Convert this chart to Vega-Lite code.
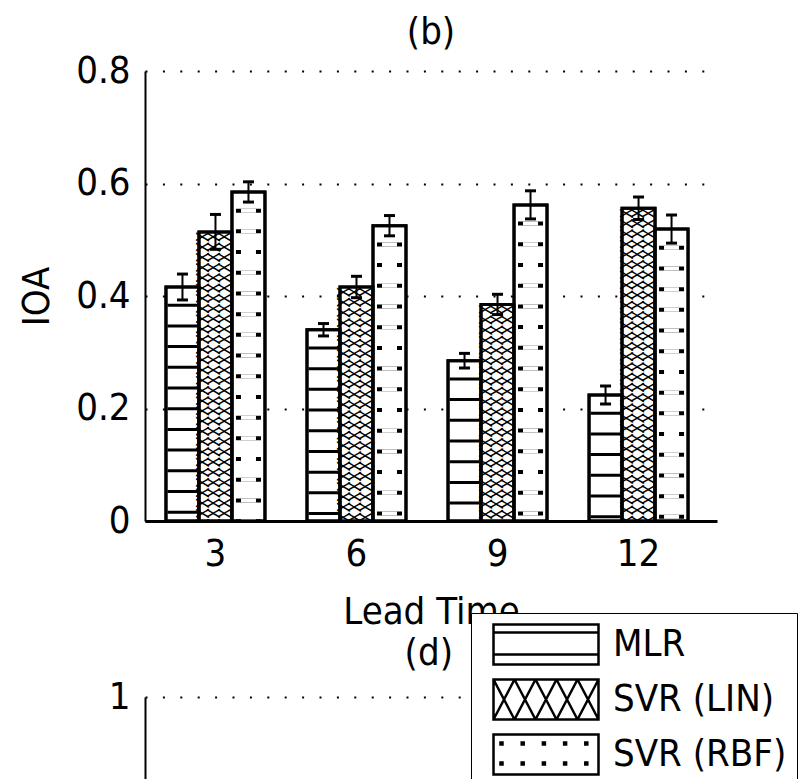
{
  "$schema": "https://vega.github.io/schema/vega-lite/v6.json",
  "padding": {"left": 18, "top": 14, "right": 0, "bottom": 0},
  "background": "white",
  "datasets": {
    "ioa": [
      {"lead": 3, "model": "MLR", "ioa": 0.416, "lo": 0.393, "hi": 0.439},
      {"lead": 3, "model": "SVR (LIN)", "ioa": 0.514, "lo": 0.483, "hi": 0.545},
      {"lead": 3, "model": "SVR (RBF)", "ioa": 0.585, "lo": 0.567, "hi": 0.603},
      {"lead": 6, "model": "MLR", "ioa": 0.340, "lo": 0.329, "hi": 0.351},
      {"lead": 6, "model": "SVR (LIN)", "ioa": 0.416, "lo": 0.397, "hi": 0.435},
      {"lead": 6, "model": "SVR (RBF)", "ioa": 0.525, "lo": 0.507, "hi": 0.543},
      {"lead": 9, "model": "MLR", "ioa": 0.285, "lo": 0.272, "hi": 0.298},
      {"lead": 9, "model": "SVR (LIN)", "ioa": 0.385, "lo": 0.367, "hi": 0.403},
      {"lead": 9, "model": "SVR (RBF)", "ioa": 0.562, "lo": 0.537, "hi": 0.587},
      {"lead": 12, "model": "MLR", "ioa": 0.224, "lo": 0.208, "hi": 0.240},
      {"lead": 12, "model": "SVR (LIN)", "ioa": 0.556, "lo": 0.536, "hi": 0.576},
      {"lead": 12, "model": "SVR (RBF)", "ioa": 0.519, "lo": 0.494, "hi": 0.544}
    ]
  },
  "bounds": "flush",
  "spacing": 176,
  "resolve": {"scale": {"xOffset": "independent", "shape": "independent"}, "legend": {"shape": "independent"}},
  "vconcat": [
    {
      "width": 572,
      "height": 450,
      "title": {"text": "(b)", "fontSize": 38, "fontWeight": "normal", "font": "Liberation Sans Narrow, DejaVu Sans Condensed, sans-serif", "color": "black", "offset": 0},
      "data": {"name": "ioa"},
      "encoding": {
        "x": {
          "field": "lead", "type": "ordinal",
          "scale": {"paddingInner": 0.298, "paddingOuter": 0.177, "align": 0.42},
          "axis": {"title": "Lead Time", "labelAngle": 0, "ticks": false, "labelPadding": 14, "titlePadding": 20, "domainWidth": 3}
        },
        "xOffset": {"field": "model", "type": "nominal", "sort": ["MLR", "SVR (LIN)", "SVR (RBF)"], "scale": {"paddingInner": 0, "paddingOuter": 0}}
      },
      "layer": [
        {
          "mark": {"type": "bar", "fill": "white", "stroke": "black", "strokeWidth": 3},
          "encoding": {
            "y": {
              "field": "ioa", "type": "quantitative",
              "scale": {"domain": [0, 0.8]},
              "axis": {"title": "IOA", "values": [0, 0.2, 0.4, 0.6, 0.8], "format": ".1~f", "titleX": -89, "titleY": 225, "titleAngle": 270, "titleBaseline": "bottom", "titleAlign": "center"}
            }
          }
        },
        {
          "transform": [{"filter": "datum.model === 'MLR'"}],
          "mark": {"type": "rule", "stroke": "black", "strokeWidth": 30, "strokeDash": [3, 17.7], "strokeDashOffset": 4, "strokeCap": "butt"},
          "encoding": {"y": {"field": "ioa", "type": "quantitative"}}
        },
        {
          "transform": [{"filter": "datum.model === 'SVR (RBF)'"}],
          "mark": {"type": "rule", "stroke": "black", "strokeWidth": 25, "strokeDash": [4, 16.7], "strokeDashOffset": 4, "strokeCap": "butt"},
          "encoding": {"y": {"field": "ioa", "type": "quantitative"}}
        },
        {
          "transform": [{"filter": "datum.model === 'SVR (RBF)'"}],
          "mark": {"type": "rule", "stroke": "white", "strokeWidth": 15, "strokeDash": [4, 16.7], "strokeDashOffset": 4, "strokeCap": "butt"},
          "encoding": {"y": {"field": "ioa", "type": "quantitative"}}
        },
        {
          "transform": [{"filter": "datum.model === 'SVR (LIN)'"}],
          "mark": {"type": "text", "text": "XXXXXXXXXXXXXXXXXXXXXXXXXXXXXXXXXXXXXXXXXXXXXXXX", "angle": 270, "align": "right", "baseline": "middle", "dy": -11, "font": "DejaVu Sans Mono", "fontSize": 17, "color": "black", "clip": true},
          "encoding": {"y": {"field": "ioa", "type": "quantitative"}}
        },
        {
          "transform": [{"filter": "datum.model === 'SVR (LIN)'"}],
          "mark": {"type": "text", "text": "XXXXXXXXXXXXXXXXXXXXXXXXXXXXXXXXXXXXXXXXXXXXXXXX", "angle": 270, "align": "right", "baseline": "middle", "dy": 0, "font": "DejaVu Sans Mono", "fontSize": 17, "color": "black", "clip": true},
          "encoding": {"y": {"field": "ioa", "type": "quantitative"}}
        },
        {
          "transform": [{"filter": "datum.model === 'SVR (LIN)'"}],
          "mark": {"type": "text", "text": "XXXXXXXXXXXXXXXXXXXXXXXXXXXXXXXXXXXXXXXXXXXXXXXX", "angle": 270, "align": "right", "baseline": "middle", "dy": 11, "font": "DejaVu Sans Mono", "fontSize": 17, "color": "black", "clip": true},
          "encoding": {"y": {"field": "ioa", "type": "quantitative"}}
        },
        {
          "mark": {"type": "bar", "fillOpacity": 0, "stroke": "black", "strokeWidth": 3},
          "encoding": {"y": {"field": "ioa", "type": "quantitative"}}
        },
        {
          "mark": {"type": "rule", "stroke": "black", "strokeWidth": 2},
          "encoding": {
            "y": {"field": "lo", "type": "quantitative"},
            "y2": {"field": "hi"}
          }
        },
        {
          "mark": {"type": "point", "shape": "stroke", "size": 121, "stroke": "black", "strokeWidth": 3, "filled": false, "opacity": 1},
          "encoding": {"y": {"field": "lo", "type": "quantitative"}}
        },
        {
          "mark": {"type": "point", "shape": "stroke", "size": 121, "stroke": "black", "strokeWidth": 3, "filled": false, "opacity": 1},
          "encoding": {"y": {"field": "hi", "type": "quantitative"}}
        },
        {
          "mark": {"type": "point", "opacity": 0, "filled": false, "stroke": "black", "strokeWidth": 2.5},
          "encoding": {
            "y": {"field": "ioa", "type": "quantitative"},
            "shape": {
              "field": "model", "type": "nominal", "sort": ["MLR", "SVR (LIN)", "SVR (RBF)"],
              "scale": {"range": [
                "M-0.45,-1H4.8V1H-0.45ZM-0.45,-0.6H4.8M-0.45,0.5H4.8",
                "M-0.45,-1H4.8V1H-0.45ZM-0.45,-1L0.6,1M0.6,-1L-0.45,1M0.6,-1L1.65,1M1.65,-1L0.6,1M1.65,-1L2.7,1M2.7,-1L1.65,1M2.7,-1L3.75,1M3.75,-1L2.7,1M3.75,-1L4.8,1M4.8,-1L3.75,1",
                "M-0.45,-1H4.8V1H-0.45ZM-0.1,-0.6h0.1v0.1h-0.1ZM0.96,-0.6h0.1v0.1h-0.1ZM2.02,-0.6h0.1v0.1h-0.1ZM3.08,-0.6h0.1v0.1h-0.1ZM4.14,-0.6h0.1v0.1h-0.1ZM-0.1,0.4h0.1v0.1h-0.1ZM0.96,0.4h0.1v0.1h-0.1ZM2.02,0.4h0.1v0.1h-0.1ZM3.08,0.4h0.1v0.1h-0.1ZM4.14,0.4h0.1v0.1h-0.1Z"
              ]},
              "legend": {
                "title": null,
                "orient": "none",
                "legendX": 326,
                "legendY": 542,
                "padding": 10,
                "symbolSize": 1600,
                "labelOffset": 89,
                "rowPadding": 4,
                "labelLimit": 500,
                "labelFontSize": 38,
                "labelFont": "Liberation Sans Narrow, DejaVu Sans Condensed, sans-serif",
                "labelColor": "black",
                "labelExpr": "datum.label + '\u00a0\u00a0\u00a0\u00a0\u00a0\u00a0\u00a0\u00a0\u00a0\u00a0\u00a0\u00a0'",
                "strokeColor": "black",
                "fillColor": "white",
                "symbolStrokeColor": "black",
                "symbolStrokeWidth": 2.5,
                "symbolOpacity": 1
              }
            }
          }
        }
      ]
    },
    {
      "width": 320,
      "height": 562,
      "title": {"text": "(d)", "fontSize": 38, "fontWeight": "normal", "font": "Liberation Sans Narrow, DejaVu Sans Condensed, sans-serif", "color": "black", "offset": 5, "anchor": "end", "dx": -12},
      "data": {"name": "ioa"},
      "transform": [{"filter": "false"}],
      "mark": {"type": "point", "opacity": 0},
      "encoding": {
        "x": {"field": "lead", "type": "ordinal", "axis": null},
        "y": {
          "field": "ioa", "type": "quantitative",
          "scale": {"domain": [0, 1]},
          "axis": {"title": null, "values": [0, 0.2, 0.4, 0.6, 0.8, 1], "format": "~g"}
        }
      }
    }
  ],
  "config": {
    "view": {"stroke": null},
    "font": "Liberation Sans Narrow, DejaVu Sans Condensed, sans-serif",
    "axis": {
      "labelFont": "Liberation Sans Narrow, DejaVu Sans Condensed, sans-serif",
      "titleFont": "Liberation Sans Narrow, DejaVu Sans Condensed, sans-serif",
      "labelFontSize": 38,
      "titleFontSize": 38,
      "titleFontWeight": "normal",
      "labelColor": "black",
      "titleColor": "black",
      "domainColor": "black",
      "domainWidth": 2,
      "ticks": false,
      "labelPadding": 15,
      "labelFlush": false,
      "labelOverlap": false
    },
    "axisY": {
      "grid": true,
      "gridColor": "black",
      "gridOpacity": 1,
      "gridWidth": 2,
      "gridDash": [2, 15.4]
    },
    "axisX": {"grid": false}
  }
}
